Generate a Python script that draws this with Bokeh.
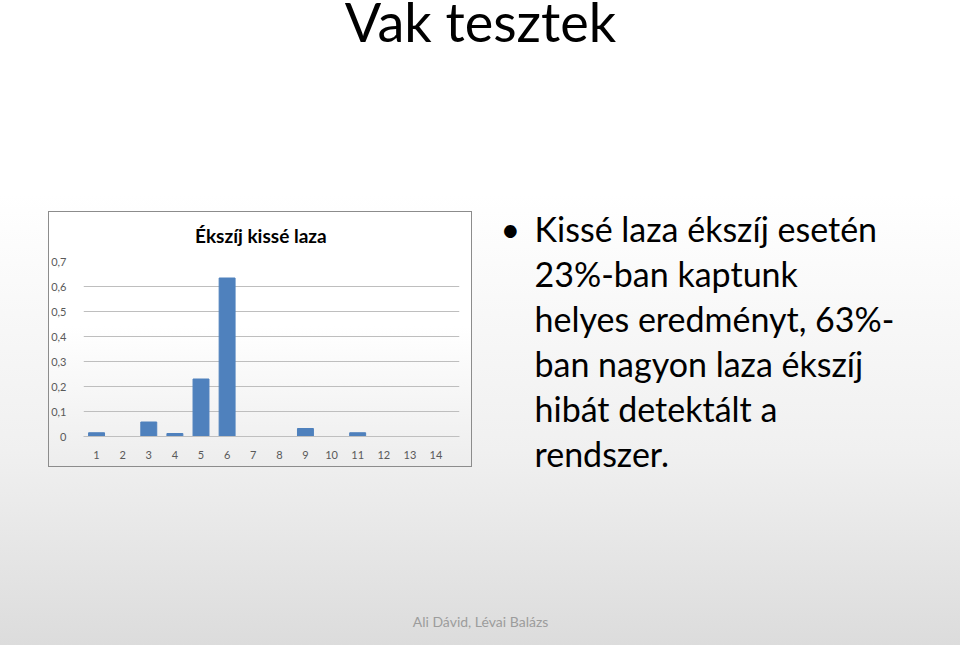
from bokeh.plotting import figure
from bokeh.models import Range1d, FixedTicker, Spacer
from bokeh.layouts import column, row
from bokeh.core.properties import value
from bokeh.embed import file_html
from bokeh.resources import INLINE

# ---- data ----
slide_title = "Vak tesztek"
chart_title = "Ékszíj kissé laza"
categories = [1, 2, 3, 4, 5, 6, 7, 8, 9, 10, 11, 12, 13, 14]
values = [0.015, 0.0, 0.058, 0.012, 0.23, 0.634, 0.0, 0.0, 0.032, 0.0, 0.015, 0.0, 0.0, 0.0]
y_ticks = [0, 0.1, 0.2, 0.3, 0.4, 0.5, 0.6, 0.7]
y_tick_labels = ["0", "0,1", "0,2", "0,3", "0,4", "0,5", "0,6", "0,7"]
bullet_lines = [
    "Kissé laza ékszíj esetén",
    "23%-ban kaptunk",
    "helyes eredményt, 63%-",
    "ban nagyon laza ékszíj",
    "hibát detektált a",
    "rendszer.",
]
footer_text = "Ali Dávid, Lévai Balázs"

FONT = "Lato"


def canvas(w, h, x0, x1, y_top, y_bottom):
    f = figure(width=w, height=h, x_range=Range1d(x0, x1), y_range=Range1d(y_bottom, y_top),
               x_axis_type=None, y_axis_type=None, output_backend="svg",
               toolbar_location=None, min_border=0)
    f.grid.visible = False
    f.outline_line_color = None
    f.background_fill_alpha = 0
    f.border_fill_alpha = 0
    return f


def base(b, size):
    # compensate the renderer's alphabetic-baseline offset
    return b - 0.4 * size


# ---- title band (screen y 0..198) ----
TITLE_SIZE = 54
title_fig = canvas(960, 198, 0, 960, 0, 198)
title_fig.text(x=[480], y=[base(43, TITLE_SIZE)], text=[slide_title], text_font=value(FONT),
               text_font_size=f"{TITLE_SIZE}px", text_align="center", text_baseline="alphabetic",
               text_color="#000000")

# ---- chart header (screen x 48..472, y 211..253) ----
head_fig = canvas(424, 42, 48, 472, 211, 253)
head_fig.text(x=[248], y=[235], text=[chart_title], text_font=value(FONT), text_font_size="19px",
              text_font_style="bold", text_align="center", text_baseline="middle",
              text_color="#000000")

# ---- chart body (screen y 253..467) ----
chart = figure(width=424, height=214, x_range=Range1d(0.5, 14.9), y_range=Range1d(0, 0.7),
               output_backend="svg", toolbar_location=None,
               min_border_left=34, min_border_right=13, min_border_top=8, min_border_bottom=31)
chart.vbar(x=categories, top=values, width=0.61, color="#4f81bd")
chart.outline_line_color = None
chart.background_fill_alpha = 0
chart.border_fill_alpha = 0
chart.xgrid.visible = False
chart.ygrid.grid_line_color = "#bebebe"
chart.xaxis.ticker = FixedTicker(ticks=categories)
chart.yaxis.ticker = FixedTicker(ticks=y_ticks)
chart.yaxis.major_label_overrides = {t: l for t, l in zip(y_ticks, y_tick_labels)}
for ax in (chart.xaxis[0], chart.yaxis[0]):
    ax.major_tick_line_color = None
    ax.minor_tick_line_color = None
    ax.major_label_text_font = FONT
    ax.major_label_text_font_size = "11px"
    ax.major_label_text_color = "#595959"
chart.xaxis.axis_line_color = "#bfbfbf"
chart.yaxis.axis_line_color = None
chart.xaxis.major_label_standoff = 8
chart.yaxis.major_label_standoff = 11

chart_box = column(head_fig, chart,
                   styles={"outline": "1px solid #8c8c8c", "outline-offset": "-1px",
                           "background": "linear-gradient(to bottom, #ffffff 0%, #ffffff 45%, #ededed 100%)"})

# ---- bullet text (screen x 472..960, y 198..498) ----
TEXT_SIZE = 34
text_fig = canvas(488, 300, 472, 960, 198, 498)
line_y = [base(242 + 45 * i, TEXT_SIZE) for i in range(len(bullet_lines))]
text_fig.text(x=[534] * len(bullet_lines), y=line_y, text=bullet_lines, text_font=value(FONT),
              text_font_size=f"{TEXT_SIZE}px", text_align="left", text_baseline="alphabetic",
              text_color="#000000")
text_fig.text(x=[500], y=[line_y[0]], text=["•"], text_font=value(FONT),
              text_font_size=f"{TEXT_SIZE}px", text_align="left", text_baseline="alphabetic",
              text_color="#000000")

# ---- footer (screen y 498..645) ----
foot_fig = canvas(960, 147, 0, 960, 498, 645)
foot_fig.text(x=[480], y=[621], text=[footer_text], text_font=value(FONT), text_font_size="14px",
              text_align="center", text_baseline="middle", text_color="#9c9c9c")

mid = row(Spacer(width=48, height=300),
          column(Spacer(width=424, height=13), chart_box, Spacer(width=424, height=31)),
          text_fig)
root = column(title_fig, mid, foot_fig,
              styles={"background": "linear-gradient(to bottom, #ffffff 0%, #ffffff 30%, #f0f0f0 70%, #dcdcdc 100%)"})

open("out.html", "w").write(file_html(root, INLINE))
